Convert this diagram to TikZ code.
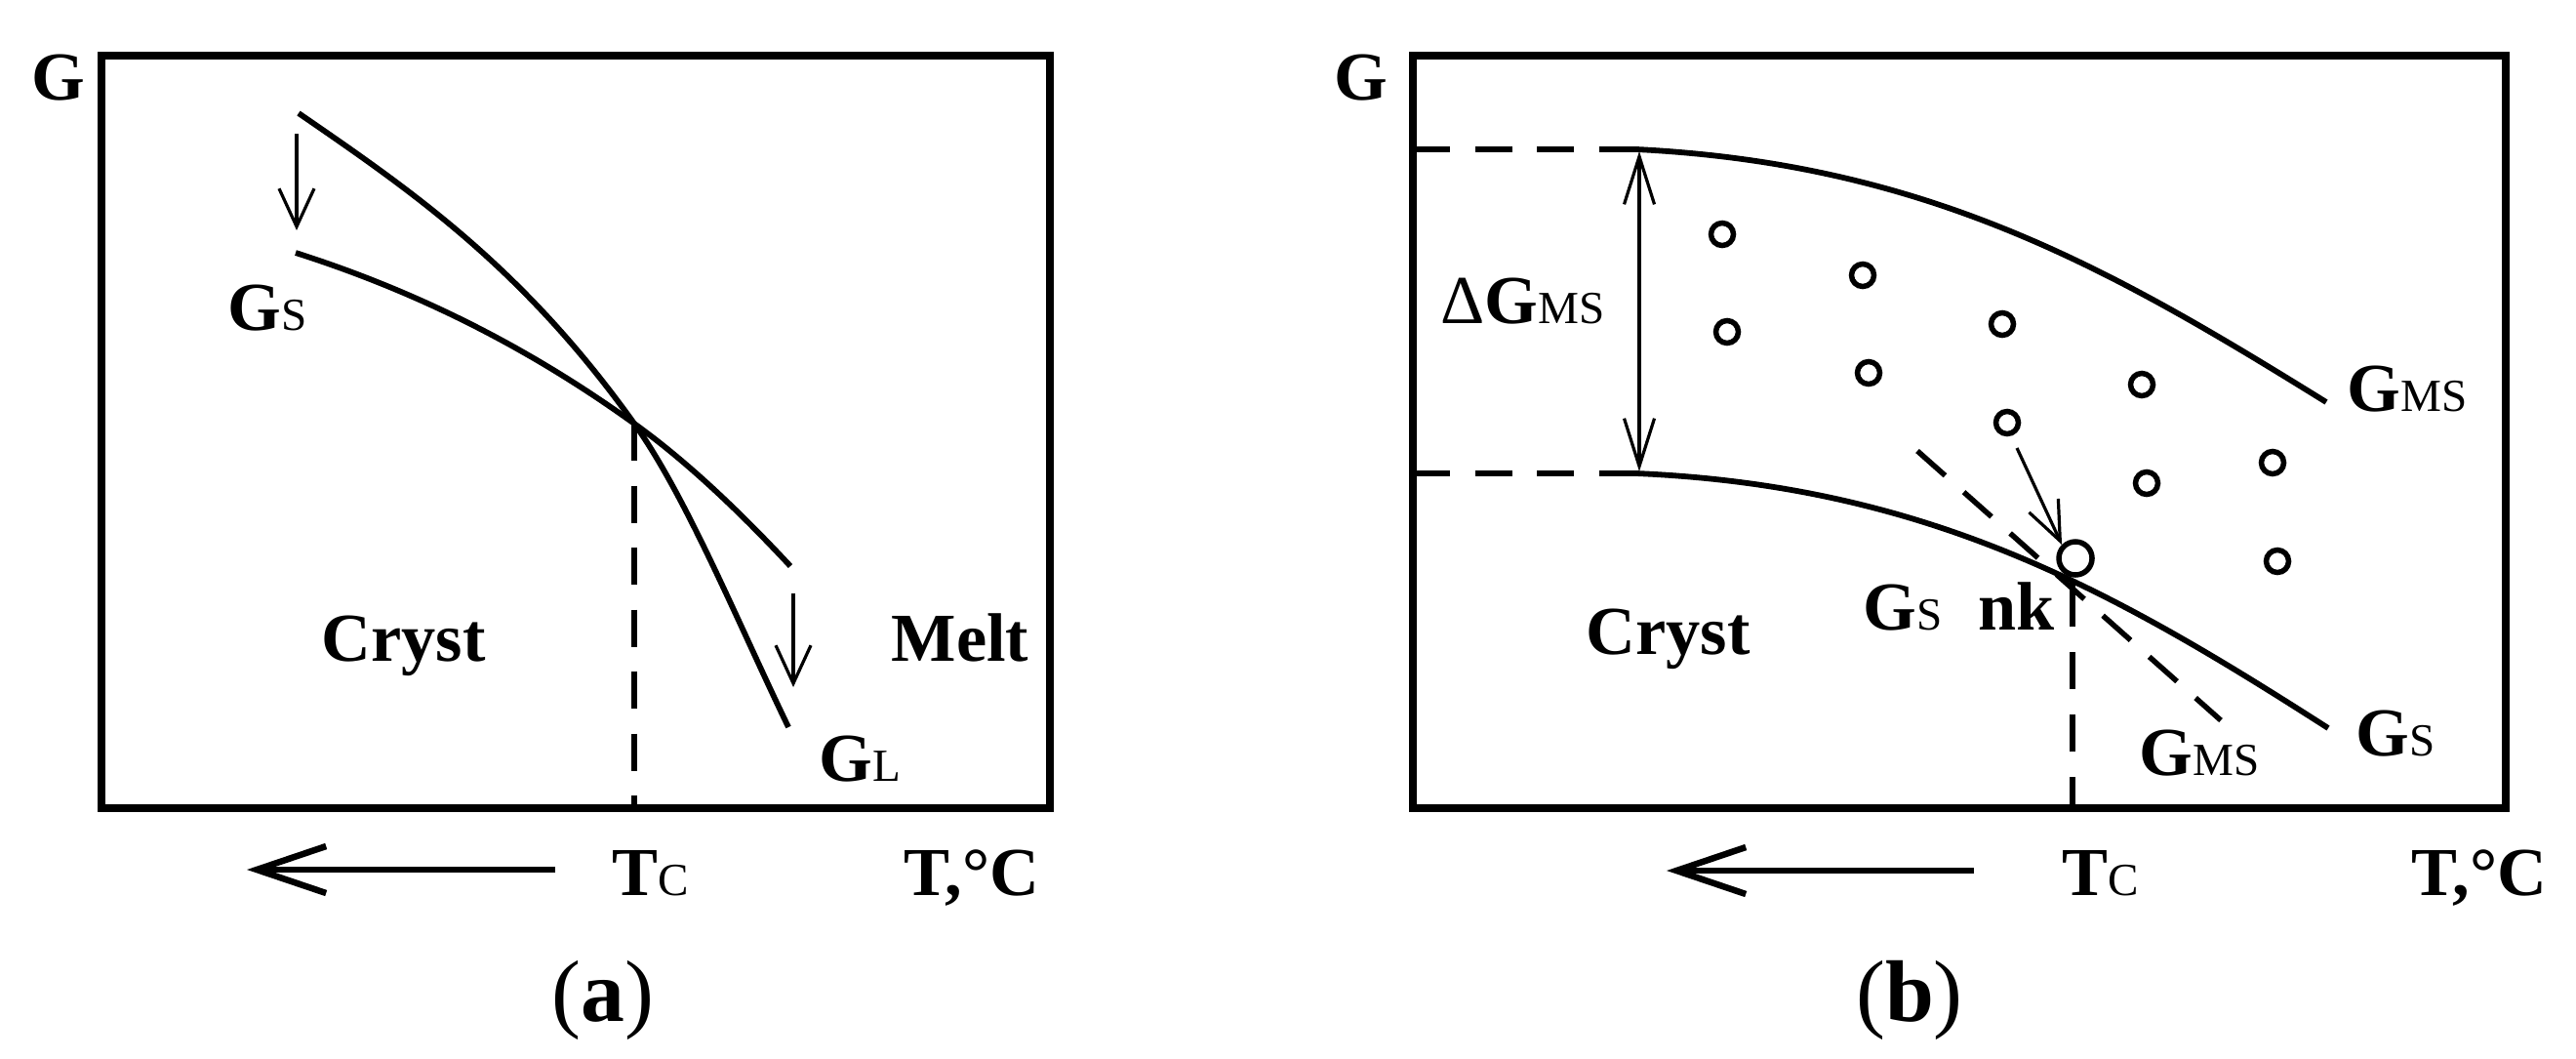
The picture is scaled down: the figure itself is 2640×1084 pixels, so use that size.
\documentclass[tikz,border=0pt]{standalone}
\usepackage{fontspec}
\setmainfont{Liberation Serif}
\usetikzlibrary{arrows.meta}
\newcommand{\lowsub}[1]{{\fontsize{13.4}{16}\selectfont\mdseries #1}}
\begin{document}
\begin{tikzpicture}[x=0.01cm, y=-0.01cm,
  lbl/.style={anchor=base west, inner sep=0pt, font=\fontsize{20}{24}\selectfont\bfseries},
  panelcap/.style={anchor=base, inner sep=0pt, font=\fontsize{25.5}{30}\selectfont},
  frame/.style={line width=0.075cm},
  curve/.style={line width=0.058cm},
  dashl/.style={line width=0.055cm, dash pattern=on 0.38cm off 0.255cm},
  thinarrow/.style={line width=0.032cm, -{Straight Barb[length=0.39cm,width=0.36cm]}},
  bigarrow/.style={line width=0.065cm, -{Straight Barb[length=0.71cm,width=0.48cm]}},
  dot/.style={circle, draw, line width=0.055cm, minimum size=0.23cm, inner sep=0pt},
  bigdot/.style={circle, draw, line width=0.055cm, minimum size=0.34cm, inner sep=0pt},
]
\useasboundingbox (0,0) rectangle (2640,1084);

% ---------------- panel (a) ----------------
\draw[frame] (104,57) rectangle (1076,828);
\coordinate (aX) at (650,434);
\coordinate (aXb) at (650,828);
% G_L
\draw[curve] (306,116) .. controls (421,195) and (535,273) .. (aX)
                       .. controls (703,508) and (755,635) .. (808,745);
% G_S
\draw[curve] (303,259) .. controls (419,296) and (534,350.5) .. (aX)
                       .. controls (703,472) and (757,523) .. (810,580);
\draw[dashl] (aX) -- (aXb);
\coordinate (aA1s) at (304,137); \coordinate (aA1e) at (304,236);
\coordinate (aA2s) at (813,608); \coordinate (aA2e) at (813,704);
\draw[thinarrow] (aA1s) -- (aA1e);
\draw[thinarrow] (aA2s) -- (aA2e);
\coordinate (aTs) at (569,891); \coordinate (aTe) at (253,891);
\draw[bigarrow] (aTs) -- (aTe);

\node[lbl] (aG) at (32,102) {G};
\node[lbl] (aGs) at (233,338) {G\lowsub{S}};
\node[lbl] (aCryst) at (329,677) {Cryst};
\node[lbl] (aMelt) at (913,677) {Melt};
\node[lbl] (aGL) at (839,800) {G\lowsub{L}};
\node[lbl] (aTc) at (627,917) {T\lowsub{C}};
\node[lbl] (aT) at (926,917) {T,°C};
\node[panelcap] (acap) at (618,1046) {(\textbf{a})};

% ---------------- panel (b) ----------------
\draw[frame] (1448,57) rectangle (2568,828);
\coordinate (bU0) at (1677,153);
\coordinate (bL0) at (1677,485);
\coordinate (bX) at (2124,596);
\coordinate (bXb) at (2124,828);
\draw[dashl] (1448,153) -- (bU0);
\draw[dashl] (1448,485) -- (bL0);
% G_MS
\draw[curve] (bU0) .. controls (1977,168) and (2164,275.6) .. (2384,412);
% G_S
\draw[curve] (bL0) .. controls (1977,498) and (2166,605) .. (2386,746);
\draw[line width=0.055cm, dash pattern=on 0.46cm off 0.26cm on 0.38cm off 0.26cm on 0.38cm off 0.26cm on 0.38cm off 0.3cm] (bX) -- (bXb);
\coordinate (bD0) at (1965,462); \coordinate (bD1) at (2276,738);
\draw[dashl] (bD0) -- (bD1);
% Delta G arrow
\coordinate (bDa) at (1680,155); \coordinate (bDb) at (1680,483);
\draw[line width=0.032cm, {Straight Barb[length=0.49cm,width=0.31cm]}-{Straight Barb[length=0.49cm,width=0.31cm]}] (bDa) -- (bDb);
% circles
\node[dot] (c1) at (1765,240) {};
\node[dot] (c2) at (1770,340) {};
\node[dot] (c3) at (1909,282) {};
\node[dot] (c4) at (1915,382) {};
\node[dot] (c5) at (2052,332) {};
\node[dot] (c6) at (2057,433) {};
\node[dot] (c7) at (2195,394) {};
\node[dot] (c8) at (2200,495) {};
\node[dot] (c9) at (2329,474) {};
\node[dot] (c10) at (2334,575) {};
\node[bigdot] (cb) at (2127,572) {};
\coordinate (bAs) at (2067,459);
\draw[line width=0.032cm, -{Straight Barb[length=0.40cm,width=0.33cm]}] (bAs) -- (cb.north west);
\coordinate (bTs) at (2023,892); \coordinate (bTe) at (1708,892);
\draw[bigarrow] (bTs) -- (bTe);

\node[lbl] (bG) at (1367,102) {G};
\node[lbl] (bdG) at (1476,331) {\mdseries Δ\bfseries G\lowsub{MS}};
\node[lbl] (bCryst) at (1625,670) {Cryst};
\node[lbl] (bGs) at (1909,645) {G\lowsub{S}};
\node[lbl] (bnk) at (2027,645) {nk};
\node[lbl] (bGMS) at (2405,421) {G\lowsub{MS}};
\node[lbl] (bGs2) at (2414,774) {G\lowsub{S}};
\node[lbl] (bGMS2) at (2192,794) {G\lowsub{MS}};
\node[lbl] (bTc) at (2113,917) {T\lowsub{C}};
\node[lbl] (bT) at (2471,917) {T,°C};
\node[panelcap] (bcap) at (1957,1046) {(\textbf{b})};
\end{tikzpicture}
\end{document}
